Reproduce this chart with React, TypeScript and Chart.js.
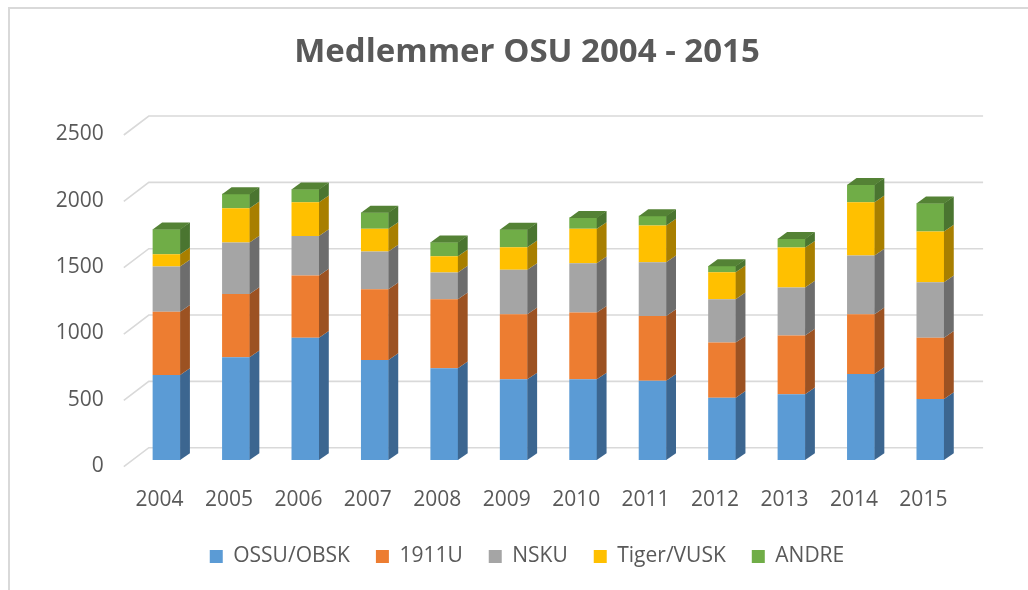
import React, { useEffect, useRef } from 'react';
import { Chart, registerables } from 'chart.js';

Chart.register(...registerables);

const categories = ['2004', '2005', '2006', '2007', '2008', '2009', '2010', '2011', '2012', '2013', '2014', '2015'];
const ossuObsk = [641, 774, 922, 754, 691, 608, 608, 598, 470, 495, 649, 460];
const u1911 = [477, 478, 468, 533, 521, 491, 503, 488, 415, 443, 450, 462];
const nsku = [340, 387, 299, 284, 201, 334, 372, 405, 327, 362, 442, 418];
const tigerVusk = [93, 259, 254, 171, 123, 171, 259, 276, 203, 301, 402, 382];
const andre = [189, 108, 98, 123, 106, 133, 85, 73, 48, 66, 131, 214];
const seriesNames = ['OSSU/OBSK', '1911U', 'NSKU', 'Tiger/VUSK', 'ANDRE'];
const yTickStep = 500;
const yMax = 2500;

const frontColors = ['#5B9BD5', '#ED7D31', '#A5A5A5', '#FFC000', '#70AD47'];
const sideColors = ['#3C6690', '#9C5222', '#6D6D6D', '#A87F00', '#4A7530'];
const topColors = ['#47799F', '#B8612A', '#838383', '#C89700', '#548235'];

const TEXT = '#595959';
const FONT = 'Open Sans';
const DX = 9.5;
const DY = 6.7;
const BACK = 12.3;
const FRONT = 6.7;

const grid3d = {
  id: 'grid3d',
  beforeDatasetsDraw(chart: any) {
    const { ctx, chartArea, scales } = chart;
    const y = scales.y;
    ctx.save();
    ctx.strokeStyle = '#d9d9d9';
    ctx.lineWidth = 1.6;
    y.ticks.forEach((t: any) => {
      const py = y.getPixelForValue(t.value);
      ctx.beginPath();
      ctx.moveTo(chartArea.left - 8, py + FRONT);
      ctx.lineTo(chartArea.left + 17, py - BACK);
      ctx.lineTo(chartArea.right + 18, py - BACK);
      ctx.stroke();
    });
    ctx.restore();
  },
};

const bars3d = {
  id: 'bars3d',
  afterDatasetsDraw(chart: any) {
    const { ctx } = chart;
    const n = chart.data.labels.length;
    ctx.save();
    for (let i = 0; i < n; i++) {
      let topProps: any = null;
      let topIdx = -1;
      chart.data.datasets.forEach((ds: any, di: number) => {
        const el = chart.getDatasetMeta(di).data[i];
        if (!el) return;
        const p = el.getProps(['x', 'y', 'base', 'width'], true);
        const right = p.x + p.width / 2;
        ctx.fillStyle = sideColors[di];
        ctx.beginPath();
        ctx.moveTo(right - 0.3, p.y);
        ctx.lineTo(right + DX, p.y - DY);
        ctx.lineTo(right + DX, p.base - DY);
        ctx.lineTo(right - 0.3, p.base);
        ctx.closePath();
        ctx.fill();
        if (ds.data[i] > 0) {
          topProps = p;
          topIdx = di;
        }
      });
      if (topProps) {
        const left = topProps.x - topProps.width / 2;
        const right = topProps.x + topProps.width / 2;
        ctx.fillStyle = topColors[topIdx];
        ctx.beginPath();
        ctx.moveTo(left, topProps.y + 0.3);
        ctx.lineTo(left + DX, topProps.y - DY);
        ctx.lineTo(right + DX, topProps.y - DY);
        ctx.lineTo(right, topProps.y + 0.3);
        ctx.closePath();
        ctx.fill();
      }
    }
    ctx.restore();
  },
};

export default function App() {
  const ref = useRef<HTMLCanvasElement | null>(null);

  useEffect(() => {
    if (!ref.current) return;
    const values = [ossuObsk, u1911, nsku, tigerVusk, andre];
    const chart = new Chart(ref.current, {
      type: 'bar',
      data: {
        labels: categories,
        datasets: values.map((v, i) => ({
          label: seriesNames[i],
          data: v,
          backgroundColor: frontColors[i],
          borderWidth: 0,
          categoryPercentage: 1,
          barPercentage: 0.4,
          yAxisID: 'y',
        })),
      },
      options: {
        responsive: false,
        animation: false,
        layout: { padding: { left: 40, right: 14, top: 0, bottom: 13 } },
        plugins: {
          title: {
            display: true,
            text: 'Medlemmer OSU 2004 - 2015',
            color: TEXT,
            font: { family: FONT, size: 33, weight: 'bold' },
            padding: { top: 33, bottom: 55.7 },
          },
          legend: {
            position: 'bottom',
            labels: {
              boxWidth: 13,
              boxHeight: 13,
              padding: 26,
              color: TEXT,
              font: { family: FONT, size: 21 },
            },
          },
          tooltip: { enabled: false },
        },
        scales: {
          x: {
            stacked: true,
            grid: { display: false },
            border: { display: false },
            ticks: {
              color: TEXT,
              font: { family: FONT, size: 21 },
              padding: 19,
              labelOffset: -7,
              maxRotation: 0,
              autoSkip: false,
            },
            afterFit: (s: any) => {
              s.height = 60;
            },
          },
          y: {
            stacked: true,
            position: 'left',
            min: 0,
            max: yMax,
            grid: { display: false },
            border: { display: false },
            ticks: {
              stepSize: yTickStep,
              color: TEXT,
              font: { family: FONT, size: 21 },
              padding: 20,
              labelOffset: 6,
              callback: (v: any) => String(v),
            },
            afterFit: (s: any) => {
              s.width = 91.8;
            },
          },
          spacer: {
            type: 'linear',
            position: 'right',
            display: true,
            grid: { display: false },
            border: { display: false },
            ticks: { display: false },
            afterFit: (s: any) => {
              s.width = 48.9;
            },
          },
        },
      },
      plugins: [grid3d, bars3d],
    });
    return () => chart.destroy();
  }, []);

  return (
    <div style={{ position: 'absolute', left: 0, top: 0, width: 1028, height: 590, overflow: 'hidden', background: '#fff' }}>
      <div
        style={{
          position: 'absolute',
          left: 8,
          top: 7,
          width: 1100,
          height: 700,
          borderLeft: '2px solid #d9d9d9',
          borderTop: '2px solid #d9d9d9',
        }}
      />
      <canvas ref={ref} width={1028} height={590} style={{ position: 'absolute', left: 0, top: 0, display: 'block' }} />
    </div>
  );
}
